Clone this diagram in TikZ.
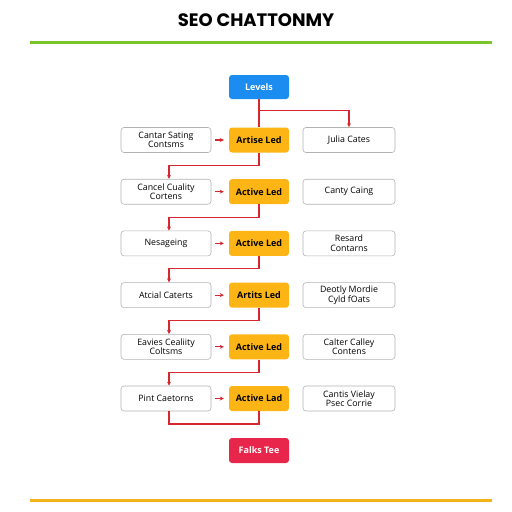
\documentclass[tikz,border=0pt]{standalone}
\usepackage{fontspec}
\setmainfont{Open Sans}
\newfontfamily\titlefont{Poppins}
\usetikzlibrary{calc}
\usetikzlibrary{arrows.meta}
\definecolor{seoblue}{HTML}{1C8DF0}
\definecolor{seoorange}{HTML}{FDB515}
\definecolor{seored}{HTML}{E8264B}
\definecolor{seoline}{HTML}{D8262E}
\definecolor{seogreen}{HTML}{7DC42A}
\definecolor{seoyellow}{HTML}{F2B31B}
\begin{document}
\begin{tikzpicture}[x=1pt,y=-1pt,
  every node/.style={inner sep=0pt,align=center,font=\fontsize{8.8}{9.6}\selectfont},
  leftbox/.style={draw=black!30,line width=0.6pt,rounded corners=3pt,minimum width=90pt,minimum height=25pt},
  rightbox/.style={leftbox,minimum width=92pt},
  midbox/.style={fill=seoorange,rounded corners=3pt,minimum width=60pt,minimum height=25pt,font=\fontsize{9}{10}\selectfont\bfseries},
  link/.style={seoline,line width=1.1pt},
  linkarr/.style={link,-{Stealth[length=4pt,width=4pt]}}]
  \pgfmathsetmacro{\dy}{51.7}
  \useasboundingbox (0,0) rectangle (512,512);

  \node (title) at (256,20) {\titlefont\fontsize{18}{19}\selectfont\bfseries SEO CHATTONMY};
  \draw[seogreen,line width=3pt] (30,42) -- (492,42);
  \draw[seoyellow,line width=3pt] (30,500) -- (492,500);

  \node[fill=seoblue,rounded corners=3pt,minimum width=60pt,minimum height=24pt,text=white,font=\fontsize{9}{10}\selectfont\bfseries] (lv) at (259,87) {Levels};

  \foreach \i/\lt/\ot/\rt in {1/{Cantar Sating\\Contsms}/{Artise Led}/{Julia Cates},
    2/{Cancel Cuality\\Cortens}/{Active Led}/{Canty Caing},
    3/{Nesageing}/{Active Led}/{Resard\\Contarns},
    4/{Atcial Caterts}/{Artits Led}/{Deotly Mordie\\Cyld fOats},
    5/{Eavies Cealiity\\Coltsms}/{Active Led}/{Calter Calley\\Contens},
    6/{Pint Caetorns}/{Active Lad}/{Cantis Vielay\\Psec Corrie}}{
    \pgfmathsetmacro{\y}{140+\dy*(\i-1)}
    \node[leftbox] (l\i) at (166,\y) {\lt};
    \node[midbox] (o\i) at (259,\y) {\ot};
    \node[rightbox] (r\i) at (349,\y) {\rt};
    \draw[linkarr,shorten <=4pt,shorten >=5pt] (l\i) -- (o\i);
  }

  \node[fill=seored,rounded corners=3pt,minimum width=60pt,minimum height=25pt,text=white,font=\fontsize{9}{10}\selectfont\bfseries] (ft) at (259,450.5) {Falks Tee};

  % top links
  \draw[link] (lv) -- (o1);
  \coordinate (br) at (259,110.7);
  \draw[linkarr] (br) -| (r1.north);

  % row to row
  \foreach \i/\j in {1/2,2/3,3/4,4/5,5/6}{
    \draw[linkarr] (o\i.south) -- ++(0,12.8) -| ([xshift=3pt]l\j.north);
  }
  \draw[link] (o6.south) -- ++(0,12.8) -| ([xshift=3pt]l6.south);
\end{tikzpicture}
\end{document}
